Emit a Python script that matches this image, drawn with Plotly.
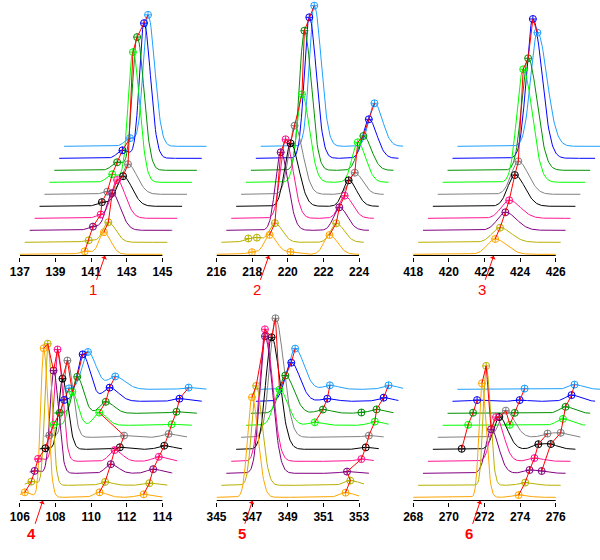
import numpy as np
import plotly.graph_objects as go

# ---------------- data ----------------
TRACE_COLORS = ["#FFA500", "#B8B000", "#800080", "#FF1493", "#000000",
                "#808080", "#00FF00", "#009000", "#0000FF", "#1EA0FF"]

PANEL_LABELS = ["1", "2", "3", "4", "5", "6"]
PANEL_XMIN = [137, 216, 418, 106, 345, 268]
PANEL_TICKS = [
    [137, 139, 141, 143, 145],
    [216, 218, 220, 222, 224],
    [418, 420, 422, 424, 426],
    [106, 108, 110, 112, 114],
    [345, 347, 349, 351, 353],
    [268, 270, 272, 274, 276],
]
PANEL_TARGET = [141.78, 218.94, 422.52, 107.29, 347.02, 271.77]

N = None
# Each panel: rows of peaks; per row 10 values (bottom trace -> top trace)
P1_CENTERS = [
    [140.64, 140.59, 140.55, 140.71, 140.50, 140.53, 140.53, 140.53, 140.55, 140.70],
    [141.72, 141.69, 141.63, 141.63, 141.69, 141.69, 141.69, 141.65, 141.76, 141.71],
]
P1_HEIGHTS = [
    [3, 2, 3.5, 3, 4, 2.5, 8, 8, 8, 8],
    [22, 20, 37, 38, 30, 30, 130, 133, 135, 131],
]
P1_WIDTHS = [
    [0.3] * 10,
    [0.27, 0.3, 0.33, 0.33, 0.36, 0.36, 0.27, 0.27, 0.26, 0.27],
]
P1_CHAINS = [0, 1]

P2_CENTERS = [
    [218.98, 219.00, 219.05, 219.05, 219.05, 219.00, 219.14, 219.00, 219.00, 219.00],
    [222.34, 222.44, 222.34, 222.36, 222.31, 222.38, 222.27, 222.31, 222.34, 222.38],
    [217.99, 217.51, N, N, N, N, N, N, N, N],
    [220.15, 217.99, N, N, N, N, N, N, N, N],
]
P2_HEIGHTS = [
    [19.3, 19, 78, 79, 63, 68.6, 88, 139.6, 141, 140.6],
    [19.3, 19, 23, 22.6, 26, 21.6, 40, 34.3, 39, 43],
    [2, 3, N, N, N, N, N, N, N, N],
    [2, 3, N, N, N, N, N, N, N, N],
]
P2_WIDTHS = [
    [0.3, 0.3, 0.3, 0.3, 0.33, 0.33, 0.3, 0.28, 0.28, 0.28],
    [0.32] * 10,
    [0.3] * 10,
    [0.3] * 10,
]
P2_CHAINS = [0, 1]

P3_CENTERS = [
    [422.60, 422.60, 422.62, 422.56, 422.60, 422.52, 422.52, 422.52, 422.51, 422.49],
]
P3_HEIGHTS = [
    [15.3, 14.6, 18, 18, 31.3, 33, 113, 112, 139.3, 113.6],
]
P3_WIDTHS = [
    [0.45, 0.45, 0.45, 0.45, 0.4, 0.4, 0.36, 0.36, 0.36, 0.38],
]
P3_CHAINS = [0]

P4_CENTERS = [
    [106.28, 106.37, 106.28, 106.20, 106.33, 106.28, 106.24, 106.31, 106.28, 106.28],
    [107.34, 107.29, 107.34, 107.29, 107.29, 107.29, 107.29, 107.29, 107.32, 107.34],
    [110.47, 110.51, 110.55, 110.49, 110.51, 110.47, 108.80, 108.89, 108.83, 108.87],
    [112.95, 112.99, 112.93, 112.97, 113.00, 112.97, 112.86, 112.86, 112.75, 112.99],
]
P4_HEIGHTS = [
    [5, 3.7, 2.4, 2.5, 1, 2, 0.5, 0.5, 1.2, 0.7],
    [149, 141.4, 102.7, 111.8, 70.6, 76.7, 33.4, 36.5, 46.9, 37.3],
    [5, 3.4, 9.1, 11.2, 2, 1.7, 12.7, 11.5, 13.6, 12.7],
    [3, 2.1, 4.1, 4.5, 3.6, 3.4, 1, 1.5, 2.6, 1.7],
]
P4_WIDTHS = [
    [0.25] * 10,
    [0.17, 0.17, 0.2, 0.2, 0.22, 0.22, 0.22, 0.25, 0.3, 0.33],
    [0.3, 0.3, 0.3, 0.3, 0.3, 0.3, 0.3, 0.33, 0.36, 0.4],
    [0.35] * 10,
]
P4_CHAINS = [0, 1, 2, 3]

P5_CENTERS = [
    [346.99, 346.95, 347.17, 346.89, 346.99, 346.93, 346.88, 346.93, 346.99, 346.93],
    [N, N, N, N, N, N, 348.86, 349.04, 349.01, 348.88],
    [352.24, 352.23, 351.77, 352.30, 352.27, 352.17, 352.23, 352.05, 352.17, 352.17],
    [N, N, N, N, N, N, N, 351.20, N, N],
]
P5_HEIGHTS = [
    [100, 99.4, 137, 132, 112, 119, 35.7, 37.8, 38.6, 40.7],
    [N, N, N, N, N, N, 3, 3.8, 2.6, 4],
    [4.6, 4.7, 1.7, 2.2, 1.9, 1.7, 3.7, 3.8, 3.6, 4],
    [N, N, N, N, N, N, N, 0.6, N, N],
]
P5_WIDTHS = [
    [0.25, 0.25, 0.3, 0.3, 0.33, 0.33, 0.33, 0.35, 0.35, 0.35],
    [0.35] * 10,
    [0.35] * 10,
    [0.3] * 10,
]
P5_CHAINS = [0, 1, 2]

P6_CENTERS = [
    [N, N, N, N, 269.62, N, 269.43, 269.43, 269.38, N],
    [271.86, 271.82, 271.82, 271.82, 271.73, 271.82, 271.77, 271.77, 271.77, 271.77],
    [273.92, 274.01, 273.98, 273.98, 273.92, 274.16, N, N, N, N],
    [N, N, 274.66, N, 274.62, 274.90, 274.75, 274.62, 274.68, 274.57],
]
P6_HEIGHTS = [
    [N, N, N, N, 0.5, N, 0.5, 0.6, 1.2, N],
    [114, 119.4, 44, 44.2, 32.3, 26.7, 0.5, 0.5, 1.2, 0.7],
    [2.3, 2.7, 3.1, 3.2, 4.6, 3.4, N, N, N, N],
    [N, N, 1.1, N, 3.6, 3.4, 6.4, 6.5, 6.2, 4.7],
]
P6_WIDTHS = [
    [0.3] * 10,
    [0.17, 0.17, 0.3, 0.3, 0.33, 0.35, 0.3, 0.3, 0.3, 0.3],
    [0.35] * 10,
    [0.35] * 10,
]
P6_CHAINS = [0, 1, 2, 3]

PANELS = [
    (P1_CENTERS, P1_HEIGHTS, P1_WIDTHS, P1_CHAINS),
    (P2_CENTERS, P2_HEIGHTS, P2_WIDTHS, P2_CHAINS),
    (P3_CENTERS, P3_HEIGHTS, P3_WIDTHS, P3_CHAINS),
    (P4_CENTERS, P4_HEIGHTS, P4_WIDTHS, P4_CHAINS),
    (P5_CENTERS, P5_HEIGHTS, P5_WIDTHS, P5_CHAINS),
    (P6_CENTERS, P6_HEIGHTS, P6_WIDTHS, P6_CHAINS),
]

# ---------------- layout constants ----------------
W, H = 600, 560
PX_PER_UNIT = 145 / 8.0
SPAN = 8.0
DX_PX, DY = 5.0, 12.0
DX = DX_PX / PX_PER_UNIT
TAIL = 1.4
ROW_AXIS_PX = [255.5, 500.5]
ROW_TOP_PX = [0, 290]
ROW_BASE = [1.2, 3.2]
COL_LEFT_PX = [10, 210, 410]
DOMAIN_W_PX = 190


def peak(x, c, h, s):
    z = np.where(x < c, (x - c) / s, (x - c) / (s * TAIL))
    return h * np.exp(-0.5 * z * z)


def trace_curve(x, centers, heights, widths, i):
    y = np.zeros_like(x)
    for cr, hr, wr in zip(centers, heights, widths):
        if cr[i] is None:
            continue
        y = y + peak(x, cr[i], hr[i], wr[i])
    return y


fig = go.Figure()
layout = dict(width=W, height=H, autosize=False,
              margin=dict(l=0, r=0, t=0, b=0, pad=0),
              paper_bgcolor="white", plot_bgcolor="white",
              showlegend=False, shapes=[], annotations=[])

for p, (cents, hts, wds, chains) in enumerate(PANELS):
    row, col = divmod(p, 3)
    xa = "x" if p == 0 else f"x{p + 1}"
    ya = "y" if p == 0 else f"y{p + 1}"
    xkey = "xaxis" if p == 0 else f"xaxis{p + 1}"
    ykey = "yaxis" if p == 0 else f"yaxis{p + 1}"
    xmin = PANEL_XMIN[p]
    left = COL_LEFT_PX[col]
    axis_px = ROW_AXIS_PX[row]
    top_px = ROW_TOP_PX[row]
    base = ROW_BASE[row]

    layout[xkey] = dict(
        domain=[left / W, min(1.0, (left + DOMAIN_W_PX) / W)],
        range=[xmin, xmin + DOMAIN_W_PX / PX_PER_UNIT],
        anchor=ya, showgrid=False, zeroline=False, showline=False,
        tickmode="array", tickvals=PANEL_TICKS[p],
        ticktext=[str(t) for t in PANEL_TICKS[p]],
        ticks="outside", ticklen=4, tickcolor="black", tickwidth=1,
        tickfont=dict(family="Liberation Sans, Arial", size=12, color="black", weight="bold"),
        fixedrange=True,
    )
    layout[ykey] = dict(
        domain=[(H - axis_px - 1) / H, (H - top_px) / H],
        range=[-1, axis_px - top_px],
        anchor=xa, visible=False, fixedrange=True,
    )
    # axis line
    layout["shapes"].append(dict(type="line", xref=xa, yref=ya,
                                 x0=xmin, x1=xmin + SPAN, y0=0, y1=0,
                                 line=dict(color="black", width=1)))

    xs = np.arange(xmin, xmin + SPAN + 1e-9, 0.04)
    mk = {}
    # curves (top trace first so lower traces are drawn above)
    for i in range(9, -1, -1):
        off_y = base + DY * i
        ys = trace_curve(xs, cents, hts, wds, i) + off_y
        fig.add_trace(go.Scatter(x=xs + DX * i, y=ys, mode="lines",
                                 line=dict(color=TRACE_COLORS[i], width=1),
                                 xaxis=xa, yaxis=ya, hoverinfo="skip"))
    # markers
    for r, cr in enumerate(cents):
        for i in range(10):
            if cr[i] is None:
                continue
            cx = np.array([cr[i]])
            cy = trace_curve(cx, cents, hts, wds, i)[0] + base + DY * i
            mk[(r, i)] = (cr[i] + DX * i, cy)
    for i in range(9, -1, -1):
        pts = [v for (r, j), v in mk.items() if j == i]
        if not pts:
            continue
        fig.add_trace(go.Scatter(x=[q[0] for q in pts], y=[q[1] for q in pts],
                                 mode="markers",
                                 marker=dict(symbol="circle-cross-open", size=7,
                                             color=TRACE_COLORS[i], line=dict(width=1)),
                                 xaxis=xa, yaxis=ya, hoverinfo="skip", cliponaxis=False))
    # red chains
    for r in chains:
        pts = [mk[(r, i)] for i in range(10) if (r, i) in mk]
        fig.add_trace(go.Scatter(x=[q[0] for q in pts], y=[q[1] for q in pts],
                                 mode="lines", line=dict(color="red", width=1),
                                 xaxis=xa, yaxis=ya, hoverinfo="skip"))
    # label with arrow
    layout["annotations"].append(dict(
        x=PANEL_TARGET[p], y=-0.3, xref=xa, yref=ya,
        text=PANEL_LABELS[p], showarrow=True,
        ax=-12 if row == 0 else -11, ay=34 if row == 0 else 33,
        axref="pixel", ayref="pixel",
        arrowhead=1, arrowsize=1, arrowwidth=1, arrowcolor="red", standoff=0,
        font=dict(family="Liberation Sans, Arial", size=15, color="red",
                  weight="bold" if row == 1 else "normal"),
    ))

fig.update_layout(**layout)
fig.write_html("out.html",
               config={"displayModeBar": False},
               post_script="document.body.style.margin='0';document.body.style.overflow='hidden';")
